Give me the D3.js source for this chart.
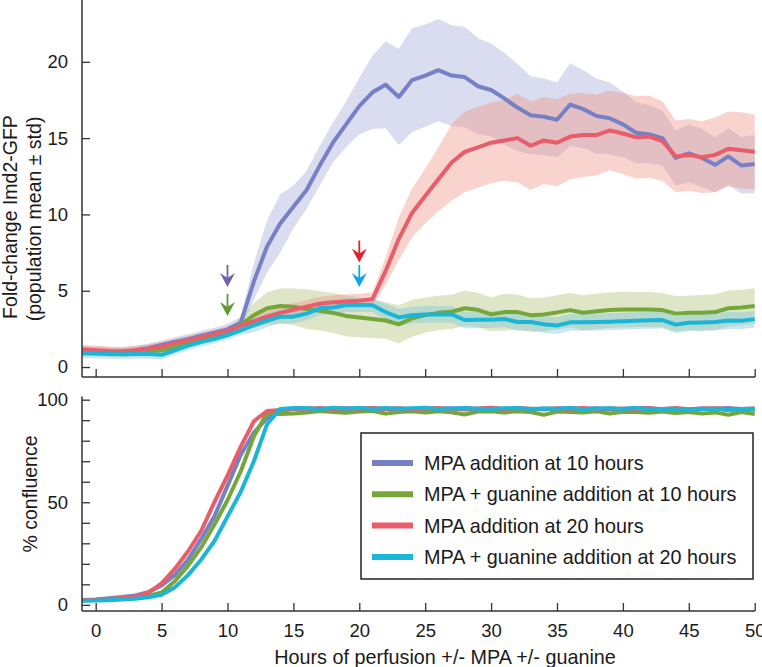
<!DOCTYPE html>
<html><head><meta charset="utf-8">
<script src="https://cdn.jsdelivr.net/npm/d3@7"></script>
<style>
body{margin:0;background:#fff;}
svg{display:block;font-family:"Liberation Sans",Arial,Helvetica,sans-serif;}
</style></head>
<body><svg id="c" width="762" height="667"></svg>
<script>
const hours = [-1,0,1,2,3,4,5,6,7,8,9,10,11,12,13,14,15,16,17,18,19,20,21,22,23,24,25,26,27,28,29,30,31,32,33,34,35,36,37,38,39,40,41,42,43,44,45,46,47,48,49,50];

const seriesNames = ["MPA addition at 10 hours","MPA + guanine addition at 10 hours","MPA addition at 20 hours","MPA + guanine addition at 20 hours"];

const blueMean = [1.10,1.07,1.02,1.00,1.10,1.25,1.44,1.65,1.83,2.05,2.25,2.47,2.90,5.60,7.90,9.40,10.50,11.60,13.20,14.70,15.90,17.10,18.00,18.50,17.70,18.80,19.10,19.45,19.10,19.00,18.40,18.15,17.60,17.00,16.50,16.40,16.20,17.20,16.90,16.45,16.30,15.90,15.35,15.25,15.00,13.70,14.00,13.70,13.25,13.80,13.20,13.30];
const blueStd = [0.30,0.30,0.28,0.28,0.28,0.30,0.30,0.30,0.32,0.32,0.33,0.35,0.40,1.20,1.70,1.90,1.40,1.25,1.30,1.30,1.50,1.85,2.40,2.85,3.15,3.40,3.35,3.35,3.30,3.30,3.15,3.05,3.00,2.85,2.55,2.50,2.45,2.70,2.55,2.45,2.35,2.15,2.00,1.90,1.80,1.80,1.90,1.90,1.80,1.85,1.85,1.90];

const greenMean = [1.00,0.98,0.95,0.93,0.97,1.02,1.10,1.30,1.55,1.75,1.95,2.20,2.75,3.40,3.85,4.00,3.95,3.80,3.69,3.55,3.35,3.25,3.15,3.05,2.80,3.19,3.40,3.55,3.62,3.85,3.75,3.45,3.60,3.60,3.40,3.45,3.58,3.73,3.56,3.65,3.73,3.77,3.77,3.77,3.73,3.50,3.55,3.55,3.60,3.85,3.90,4.00];
const greenStd = [0.28,0.28,0.28,0.28,0.28,0.28,0.28,0.28,0.28,0.28,0.28,0.28,0.50,0.80,1.05,1.15,1.20,1.30,1.30,1.30,1.35,1.30,1.25,1.20,1.25,1.20,1.15,1.12,1.12,1.15,1.12,1.10,1.20,1.15,1.10,1.10,1.12,1.12,1.15,1.17,1.15,1.17,1.15,1.15,1.12,1.15,1.12,1.17,1.17,1.17,1.17,1.17];

const redMean = [1.15,1.10,1.05,1.02,1.10,1.20,1.35,1.55,1.75,1.95,2.15,2.37,2.70,3.00,3.30,3.55,3.75,3.95,4.15,4.25,4.30,4.35,4.45,6.30,8.40,10.10,11.20,12.30,13.40,14.10,14.40,14.70,14.85,15.00,14.50,14.85,14.70,15.10,15.20,15.20,15.50,15.30,15.05,15.10,14.80,13.80,13.90,13.75,13.90,14.30,14.20,14.10];
const redStd = [0.30,0.30,0.30,0.30,0.30,0.30,0.30,0.30,0.30,0.30,0.30,0.30,0.30,0.45,0.45,0.45,0.45,0.45,0.45,0.45,0.45,0.45,0.45,0.90,1.40,1.60,1.80,2.10,2.50,2.65,2.65,2.65,2.65,2.90,2.90,2.85,2.85,2.80,2.75,2.65,2.60,2.65,2.70,2.70,2.60,2.35,2.35,2.35,2.45,2.45,2.50,2.45];

const cyanMean = [0.90,0.88,0.85,0.83,0.85,0.85,0.80,1.10,1.40,1.65,1.85,2.10,2.40,2.75,3.05,3.30,3.30,3.50,3.85,3.90,4.06,4.06,4.05,3.60,3.25,3.40,3.45,3.45,3.45,3.08,3.10,3.10,3.15,2.95,2.95,2.80,2.72,2.93,2.93,2.95,2.97,3.00,3.04,3.06,3.08,2.78,2.90,2.92,2.95,3.05,3.04,3.14];
const cyanStd = [0.30,0.30,0.30,0.30,0.30,0.30,0.30,0.30,0.30,0.30,0.30,0.30,0.30,0.45,0.45,0.45,0.45,0.45,0.45,0.45,0.45,0.45,0.45,0.55,0.55,0.55,0.55,0.55,0.55,0.55,0.55,0.55,0.55,0.55,0.55,0.55,0.55,0.55,0.55,0.55,0.55,0.55,0.55,0.55,0.55,0.55,0.55,0.55,0.55,0.55,0.55,0.55];

const blueConf = [2.4,2.6,3.2,3.8,4.6,6.2,9.5,14.5,22.0,32.0,43.0,58.0,73.0,84.0,91.0,94.5,95.5,95.8,95.2,95.6,94.8,95.5,95.9,95.3,95.7,95.0,95.6,95.4,95.8,95.2,95.6,95.9,95.3,95.6,95.1,95.7,95.5,95.9,95.4,95.8,95.2,95.6,96.0,95.9,95.0,95.5,95.2,95.8,95.6,95.9,95.4,95.7];
const greenConf = [2.3,2.4,2.6,3.0,3.5,4.3,6.0,11.5,19.0,28.0,39.0,51.0,65.0,82.0,93.5,93.0,93.3,93.8,94.5,94.0,93.6,94.2,94.5,93.2,94.0,94.3,93.8,94.4,93.9,92.8,94.2,94.4,93.8,94.3,94.0,92.6,94.2,94.0,93.8,94.3,93.2,94.1,94.0,93.6,94.2,93.5,94.0,93.2,93.8,92.6,94.0,93.0];
const redConf = [2.4,2.5,2.8,3.3,4.0,6.0,10.5,17.5,26.0,36.0,50.0,63.0,77.0,89.5,94.5,95.0,95.5,95.6,95.9,95.4,95.8,95.6,96.0,95.5,95.8,95.3,95.7,95.9,95.4,95.8,95.6,96.1,95.5,95.9,95.6,95.2,95.8,95.5,95.9,95.3,95.7,95.6,95.4,95.8,95.5,95.9,95.3,95.6,95.8,95.5,95.4,95.6];
const cyanConf = [2.0,2.1,2.3,2.6,3.0,3.7,4.9,8.5,14.5,22.0,31.0,43.0,55.0,70.0,88.0,95.5,96.0,95.8,95.5,96.1,95.7,95.9,95.4,96.0,95.6,95.8,96.1,95.5,95.7,95.9,95.6,95.4,95.8,96.0,95.5,95.7,95.6,95.9,95.3,95.7,95.8,95.5,95.9,95.2,95.4,95.6,94.9,95.3,95.6,94.8,95.4,95.1];

const xTicks = [0,5,10,15,20,25,30,35,40,45,50];
const topYTicks = [0,5,10,15,20];
const botYTicks = [0,10,20,30,40,50,60,70,80,90,100];
const botYLabels = [0,50,100];

// arrows marking drug addition: hour and value of the tip
const arrowHours = [10,10,20,20];
const arrowTips = [5.25,3.35,6.85,5.25];

const lineColors = ["#7581c4","#74a639","#e85d69","#19b6d7"];
const bandColors = ["#a2a7d7","#afc076","#f09182","#76c6da"];
const arrowColors = ["#6c62ae","#5f9a33","#e6202b","#12a6e6"];

const means = [blueMean,greenMean,redMean,cyanMean];
const stds = [blueStd,greenStd,redStd,cyanStd];
const confs = [blueConf,greenConf,redConf,cyanConf];

const svg = d3.select("#c");
const x = d3.scaleLinear().domain([-1,50]).range([82.5,754.7]);
const yTop = d3.scaleLinear().domain([-0.62,24.05]).range([376.5,0]);
const yBot = d3.scaleLinear().domain([-3,101.5]).range([611,396.6]);

const FS = 18.5;

// top panel bands
const area = (m,s) => d3.area().x((d,i)=>x(hours[i])).y0((d,i)=>yTop(m[i]-s[i])).y1((d,i)=>yTop(m[i]+s[i]));
means.forEach((m,k)=>{
  svg.append("path").datum(m).attr("d",area(m,stds[k])).attr("fill",bandColors[k]).attr("fill-opacity",0.4);
});
const lineTop = d3.line().x((d,i)=>x(hours[i])).y(d=>yTop(d));
means.forEach((m,k)=>{
  svg.append("path").datum(m).attr("d",lineTop).attr("fill","none").attr("stroke",lineColors[k]).attr("stroke-width",4).attr("stroke-linejoin","round");
});

// arrows
[0,1,2,3].forEach(k=>{
  const ax = x(arrowHours[k]), ty = yTop(arrowTips[k]);
  const g = svg.append("g");
  g.append("line").attr("x1",ax).attr("x2",ax).attr("y1",ty-22).attr("y2",ty-8).attr("stroke",arrowColors[k]).attr("stroke-width",1.8);
  g.append("path").attr("d",`M${ax},${ty} L${ax-7.5},${ty-14} L${ax},${ty-9} L${ax+7.5},${ty-14} Z`).attr("fill",arrowColors[k]);
});

// top axes
const axCol = "#333";
const gTopY = svg.append("g").attr("transform","translate(82,0)")
  .call(d3.axisLeft(yTop).tickValues(topYTicks).tickSize(-8).tickSizeOuter(0).tickPadding(14));
const gTopX = svg.append("g").attr("transform","translate(0,377)")
  .call(d3.axisBottom(x).tickValues(xTicks).tickSize(-8).tickSizeOuter(0).tickFormat(""));
gTopX.select(".domain").attr("d","M82,0H755");
gTopY.select(".domain").attr("d","M0,0V377");

// bottom panel lines
const lineBot = d3.line().x((d,i)=>x(hours[i])).y(d=>yBot(d));
confs.forEach((c,k)=>{
  svg.append("path").datum(c).attr("d",lineBot).attr("fill","none").attr("stroke",lineColors[k]).attr("stroke-width",4).attr("stroke-linejoin","round");
});
const gBotY = svg.append("g").attr("transform","translate(82,0)")
  .call(d3.axisLeft(yBot).tickValues(botYTicks).tickSize(-8).tickSizeOuter(0).tickPadding(14)
    .tickFormat(d=>botYLabels.includes(d)?d:""));
gBotY.select(".domain").attr("d","M0,396.6V611");
const gBotX = svg.append("g").attr("transform","translate(0,611)")
  .call(d3.axisBottom(x).tickValues(xTicks).tickSize(-8).tickSizeOuter(0).tickPadding(13));
gBotX.select(".domain").attr("d","M82,0H755");

svg.selectAll(".domain").attr("stroke",axCol).attr("stroke-width",1.5);
svg.selectAll(".tick line").attr("stroke",axCol).attr("stroke-width",1.3);
svg.selectAll(".tick text").attr("font-size",FS).attr("fill","#1a1a1a").attr("font-family","Liberation Sans, Arial, sans-serif");

// axis titles
svg.append("text").attr("transform","translate(17,217) rotate(-90)").attr("text-anchor","middle")
  .attr("font-size",19.5).attr("fill","#1a1a1a").text("Fold-change Imd2-GFP");
svg.append("text").attr("transform","translate(41,219) rotate(-90)").attr("text-anchor","middle")
  .attr("font-size",19.5).attr("fill","#1a1a1a").text("(population mean ± std)");
svg.append("text").attr("transform","translate(37,494) rotate(-90)").attr("text-anchor","middle")
  .attr("font-size",19.5).attr("fill","#1a1a1a").text("% confluence");
svg.append("text").attr("x",445).attr("y",664).attr("text-anchor","middle")
  .attr("font-size",19.8).attr("fill","#1a1a1a").text("Hours of perfusion +/- MPA +/- guanine");

// legend
const lg = svg.append("g");
lg.append("rect").attr("x",361).attr("y",433).attr("width",392).attr("height",146)
  .attr("fill","#fff").attr("stroke","#222").attr("stroke-width",1.5);
seriesNames.forEach((name,k)=>{
  const cy = 463 + k*31.3;
  lg.append("line").attr("x1",372).attr("x2",413).attr("y1",cy).attr("y2",cy)
    .attr("stroke",lineColors[k]).attr("stroke-width",6);
  lg.append("text").attr("x",424).attr("y",cy+7).attr("font-size",19.8).attr("fill","#1a1a1a").text(name);
});
</script>
</body></html>
